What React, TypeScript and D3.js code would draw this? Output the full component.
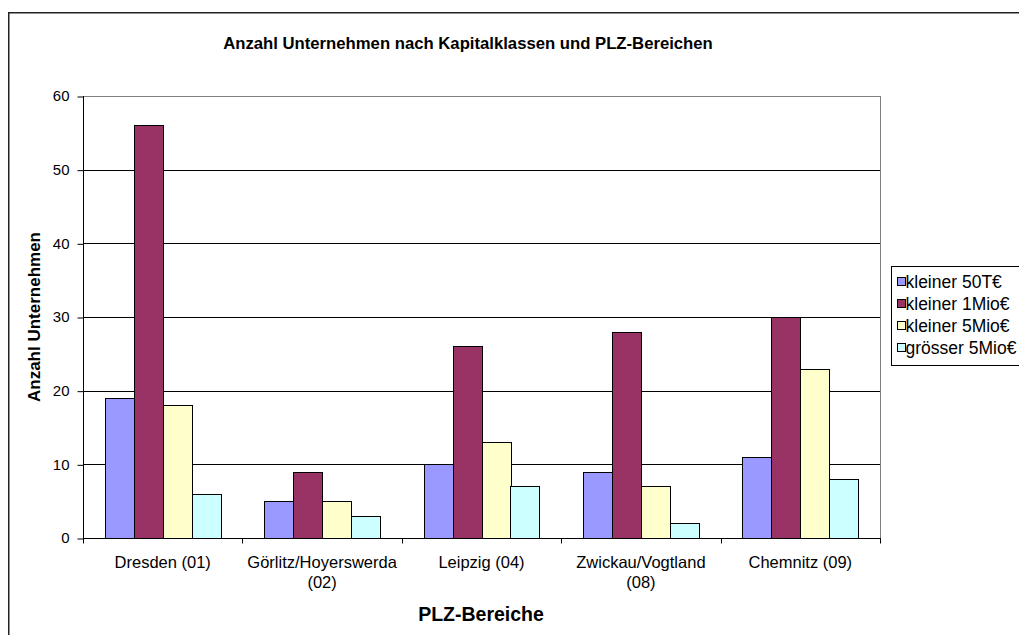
import React, { useEffect, useRef } from 'react';
import * as d3 from 'd3';

const categories = ['Dresden (01)', 'Görlitz/Hoyerswerda (02)', 'Leipzig (04)', 'Zwickau/Vogtland (08)', 'Chemnitz (09)'];
const categoryLines = [['Dresden (01)'], ['Görlitz/Hoyerswerda', '(02)'], ['Leipzig (04)'], ['Zwickau/Vogtland', '(08)'], ['Chemnitz (09)']];
const seriesNames = ['kleiner 50T€', 'kleiner 1Mio€', 'kleiner 5Mio€', 'grösser 5Mio€'];
const seriesColors = ['#9999FF', '#993366', '#FFFFCC', '#CCFFFF'];
const kleiner50T = [19, 5, 10, 9, 11];
const kleiner1Mio = [56, 9, 26, 28, 30];
const kleiner5Mio = [18, 5, 13, 7, 23];
const groesser5Mio = [6, 3, 7, 2, 8];
const yTicks = [0, 10, 20, 30, 40, 50, 60];

const W = 1019;
const H = 635;
const font = '"Liberation Sans", Arial, sans-serif';

export default function App() {
  const ref = useRef<SVGSVGElement>(null);

  useEffect(() => {
    const svg = d3.select(ref.current);
    svg.selectAll('*').remove();

    const plot = { left: 83, right: 880, top: 96, bottom: 538 };
    const series = [kleiner50T, kleiner1Mio, kleiner5Mio, groesser5Mio];

    // chart frame
    svg.append('rect')
      .attr('x', 8.75).attr('y', 12.75)
      .attr('width', W + 20).attr('height', H + 20)
      .attr('fill', '#fff').attr('stroke', '#222').attr('stroke-width', 1.5);

    const x = d3.scaleBand<string>().domain(categories).range([plot.left, plot.right]).padding(0);
    const xs = d3.scaleBand<number>().domain(d3.range(series.length))
      .range([0, x.bandwidth()]).paddingInner(0).paddingOuter(0.75);
    const y = d3.scaleLinear().domain([0, 60]).range([plot.bottom, plot.top]);

    // plot area border
    svg.append('rect')
      .attr('x', plot.left + 0.5).attr('y', plot.top + 0.5)
      .attr('width', plot.right - plot.left).attr('height', plot.bottom - plot.top)
      .attr('fill', 'none').attr('stroke', '#808080');

    // gridlines
    svg.append('g').selectAll('line')
      .data(yTicks.filter(t => t > 0 && t < 60))
      .enter().append('line')
      .attr('x1', plot.left).attr('x2', plot.right)
      .attr('y1', d => Math.round(y(d)) + 0.5).attr('y2', d => Math.round(y(d)) + 0.5)
      .attr('stroke', '#000');

    // bars
    series.forEach((vals, si) => {
      svg.append('g').selectAll('rect')
        .data(vals)
        .enter().append('rect')
        .attr('x', (d, i) => Math.round(x(categories[i])! + xs(si)!) + 0.5)
        .attr('y', d => Math.round(y(d)) + 0.5)
        .attr('width', Math.round(xs.bandwidth()))
        .attr('height', d => Math.round(y(0)) - Math.round(y(d)))
        .attr('fill', seriesColors[si])
        .attr('stroke', '#000');
    });

    // y axis
    const ya = svg.append('g').attr('transform', `translate(${plot.left + 0.5},0)`)
      .call(d3.axisLeft(y).tickValues(yTicks).tickSize(6).tickPadding(8).tickFormat(d3.format('d')));
    ya.select('.domain').attr('stroke', '#000').attr('d', `M0,${plot.top}V${plot.bottom}`);
    ya.selectAll('.tick line').attr('stroke', '#000').attr('transform', 'translate(0,0.5)');
    ya.selectAll('.tick text').attr('font-family', font).attr('font-size', 15).attr('fill', '#000');

    // x axis
    const xa = svg.append('g').attr('transform', `translate(0,${plot.bottom + 0.5})`);
    xa.append('line').attr('x1', plot.left).attr('x2', plot.right + 1).attr('stroke', '#000');
    xa.selectAll('line.tick')
      .data(d3.range(categories.length + 1))
      .enter().append('line').attr('class', 'tick')
      .attr('x1', i => Math.round(plot.left + i * x.step()) + 0.5)
      .attr('x2', i => Math.round(plot.left + i * x.step()) + 0.5)
      .attr('y1', 0).attr('y2', 5).attr('stroke', '#000');
    categories.forEach((c, i) => {
      const cx = x(c)! + x.bandwidth() / 2;
      const t = xa.append('text')
        .attr('text-anchor', 'middle')
        .attr('font-family', font).attr('font-size', 16.5).attr('fill', '#000');
      categoryLines[i].forEach((ln, j) => {
        t.append('tspan').attr('x', cx).attr('y', 29 + j * 20).text(ln);
      });
    });

    // titles
    svg.append('text')
      .attr('x', 468).attr('y', 49)
      .attr('text-anchor', 'middle')
      .attr('font-family', font).attr('font-size', 16.7).attr('font-weight', 'bold')
      .text('Anzahl Unternehmen nach Kapitalklassen und PLZ-Bereichen');
    svg.append('text')
      .attr('x', 481).attr('y', 621)
      .attr('text-anchor', 'middle')
      .attr('font-family', font).attr('font-size', 19.5).attr('font-weight', 'bold')
      .text('PLZ-Bereiche');
    svg.append('text')
      .attr('transform', `translate(40,${(plot.top + plot.bottom) / 2}) rotate(-90)`)
      .attr('text-anchor', 'middle')
      .attr('font-family', font).attr('font-size', 17).attr('font-weight', 'bold')
      .text('Anzahl Unternehmen');

    // legend
    const lg = svg.append('g').attr('transform', 'translate(891.5,266.5)');
    lg.append('rect').attr('width', 140).attr('height', 99).attr('fill', '#fff').attr('stroke', '#000');
    const items = lg.selectAll('g.item')
      .data(seriesNames)
      .enter().append('g').attr('class', 'item')
      .attr('transform', (d, i) => `translate(0,${16 + i * 22})`);
    items.append('rect')
      .attr('x', 6).attr('y', -5).attr('width', 8).attr('height', 8)
      .attr('fill', (d, i) => seriesColors[i]).attr('stroke', '#000');
    items.append('text')
      .attr('x', 14).attr('y', 5)
      .attr('font-family', font).attr('font-size', 17.5).attr('fill', '#000')
      .text(d => d);
  }, []);

  return (
    <svg ref={ref} width={W} height={H} style={{ position: 'absolute', left: 0, top: 0, background: '#fff' }} />
  );
}
